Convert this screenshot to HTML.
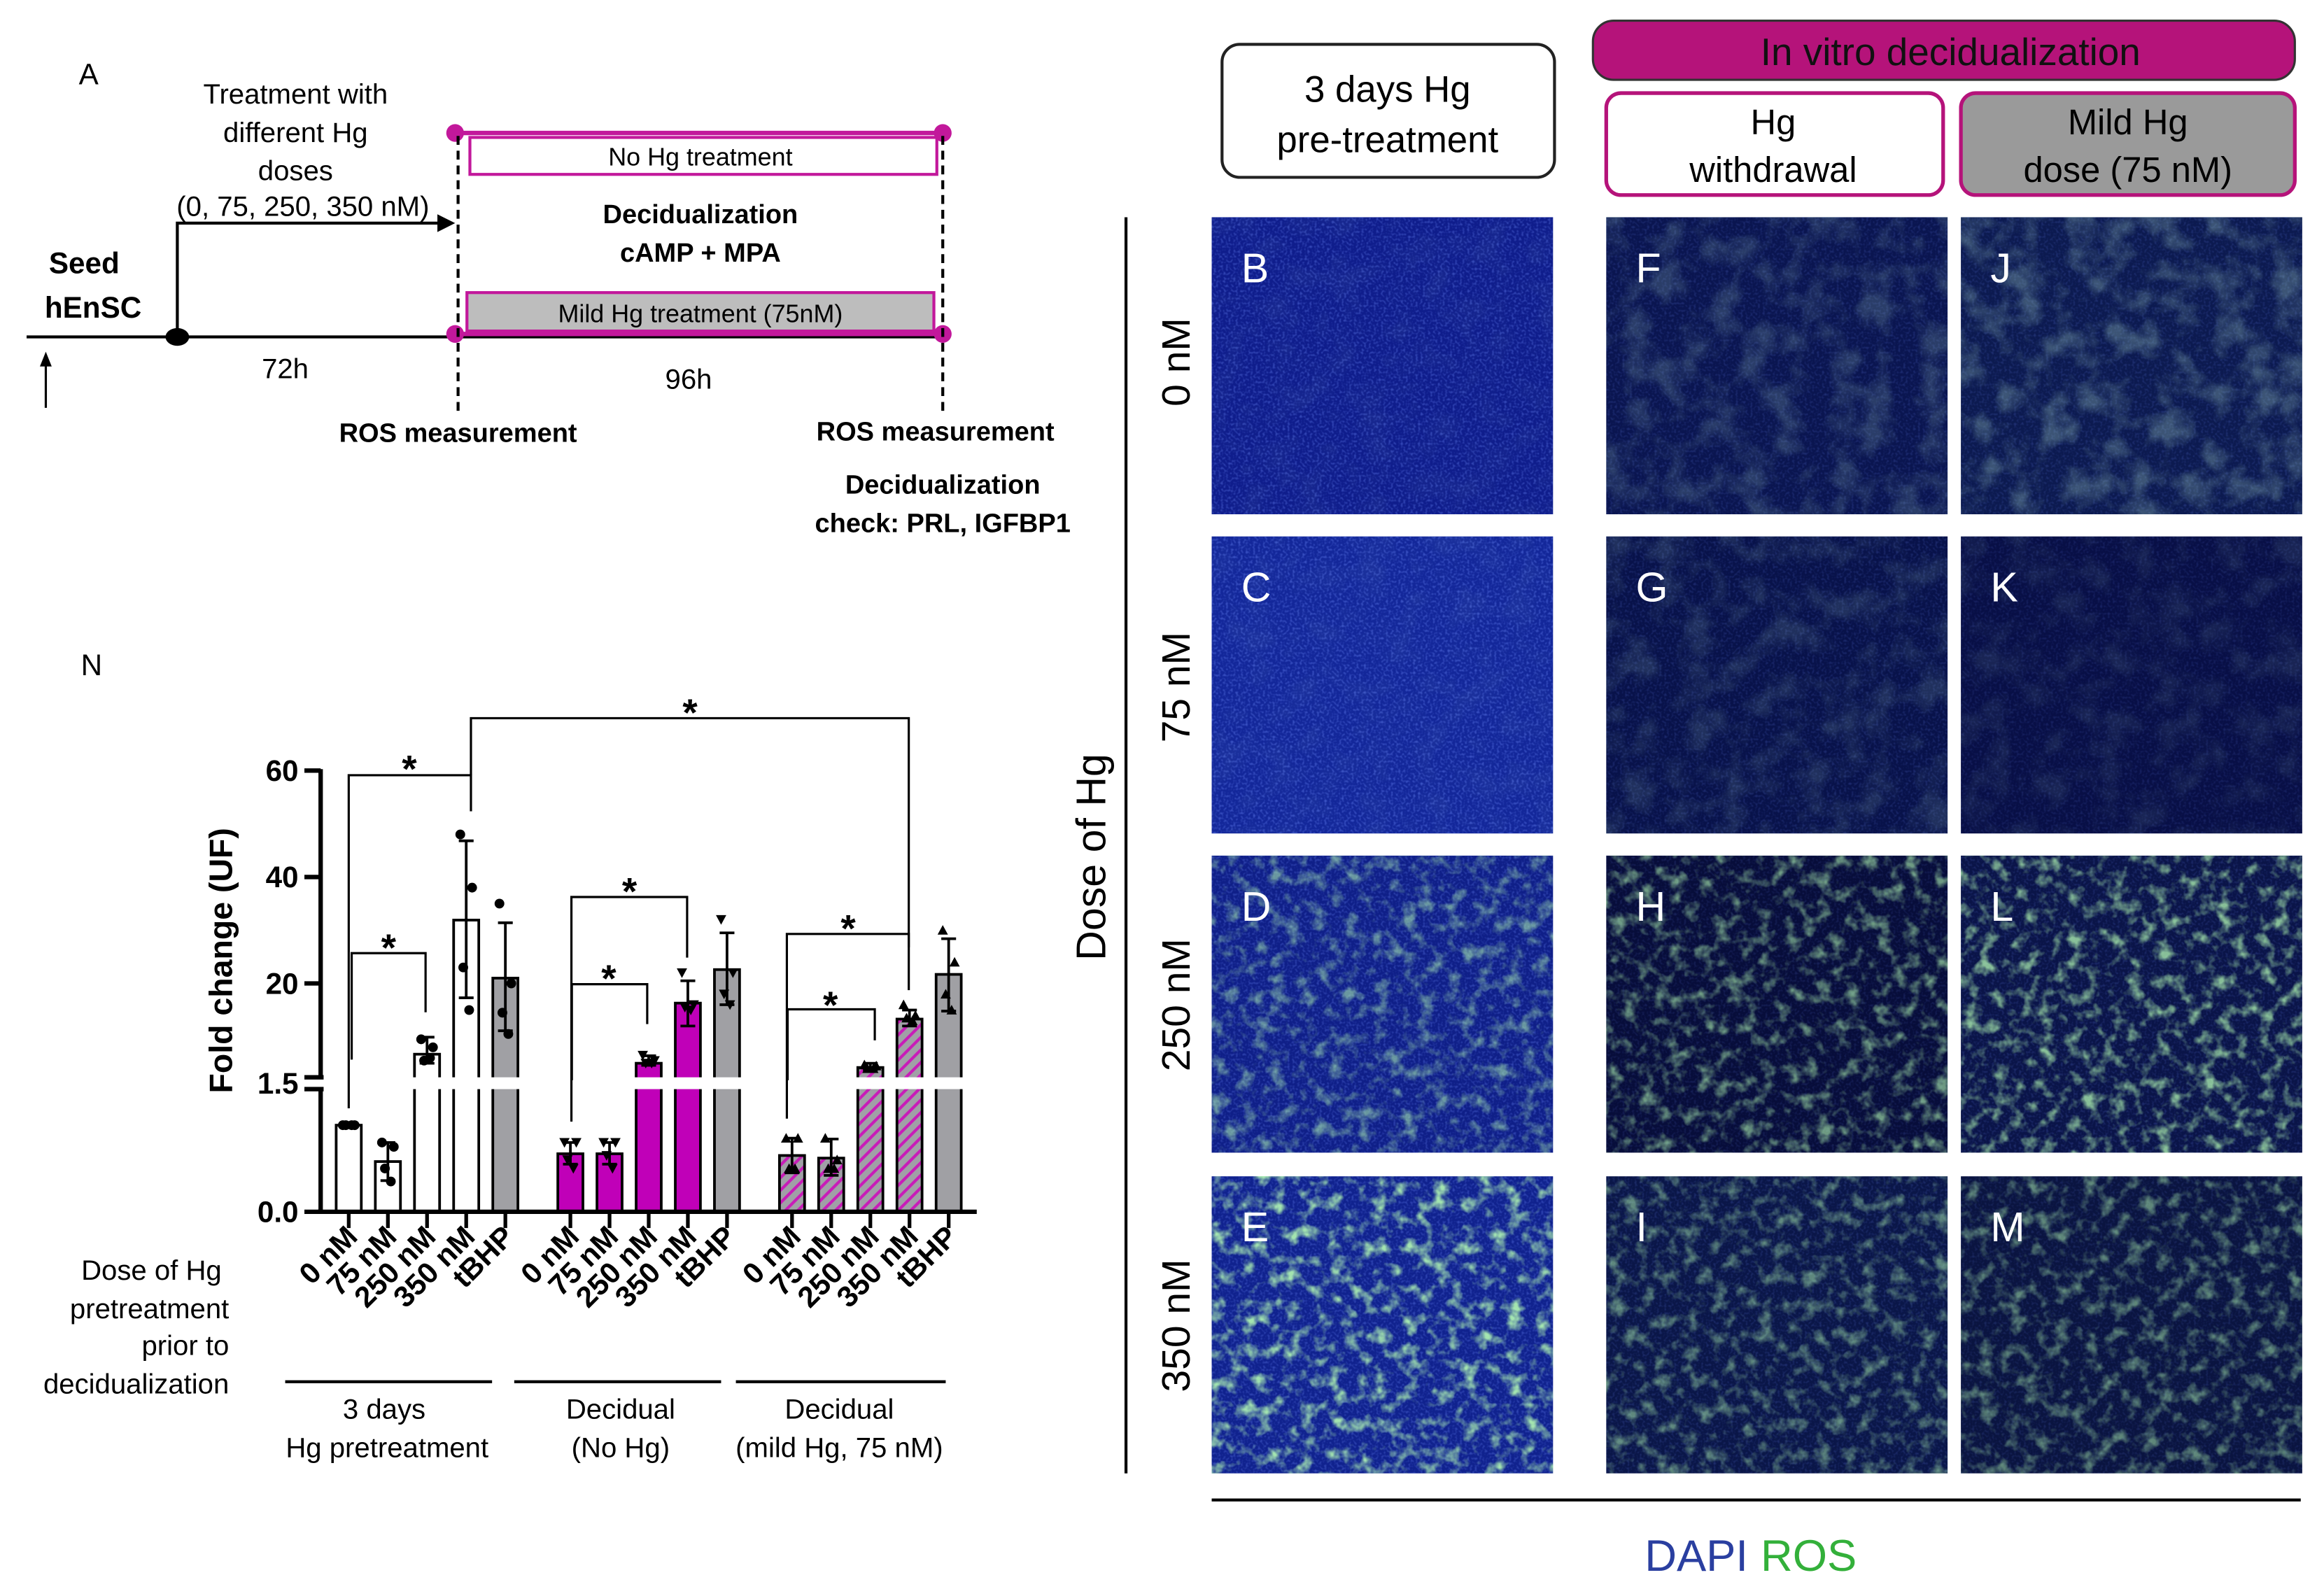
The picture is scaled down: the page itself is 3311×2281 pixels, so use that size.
<!DOCTYPE html>
<html><head><meta charset="utf-8">
<style>
html,body{margin:0;padding:0;background:#fff;}
svg{display:block;}
text{font-family:"Liberation Sans",sans-serif;}
</style></head>
<body>
<svg id="fig" xmlns="http://www.w3.org/2000/svg" width="3311" height="2281" viewBox="0 0 1568 1080" preserveAspectRatio="none">
<defs>
  <filter id="blueNoise" x="0" y="0" width="100%" height="100%">
    <feTurbulence type="fractalNoise" baseFrequency="0.6" numOctaves="1" seed="3"/>
    <feColorMatrix type="matrix" values="0 0 0 0 0.15  0 0 0 0 0.25  0 0 0 0 0.95  2.2 0 0 0 -1.0"/>
  </filter>
  <filter id="greenNoise" x="0" y="0" width="100%" height="100%">
    <feTurbulence type="fractalNoise" baseFrequency="0.1" numOctaves="3" seed="7"/>
    <feColorMatrix type="matrix" values="0 0 0 0 0.45  0 0 0 0 0.95  0 0 0 0 0.45  3.0 0 0 0 -1.45"/>
  </filter>
  <filter id="greenNoise2" x="0" y="0" width="100%" height="100%">
    <feTurbulence type="fractalNoise" baseFrequency="0.05" numOctaves="3" seed="11"/>
    <feColorMatrix type="matrix" values="0 0 0 0 0.4  0 0 0 0 0.7  0 0 0 0 0.6  3 0 0 0 -1.3"/>
  </filter>
  <pattern id="hatch" patternUnits="userSpaceOnUse" width="6" height="6" patternTransform="rotate(45)">
    <rect width="6" height="6" fill="#a0a0a6"/>
    <rect width="2" height="6" fill="#c81cb8"/>
  </pattern>
</defs>

<g>
  <text x="60" y="57" font-size="20" text-anchor="middle">A</text>
  <line x1="18" y1="228" x2="640" y2="228" stroke="#000" stroke-width="2"/>
  <ellipse cx="120" cy="228" rx="8" ry="6" fill="#000"/>
  <polyline points="120,228 120,151 300,151" fill="none" stroke="#000" stroke-width="2"/>
  <polygon points="308,151 296,145 296,157" fill="#000"/>
  <g font-size="19" text-anchor="middle">
    <text x="200" y="70">Treatment with</text>
    <text x="200" y="96">different Hg</text>
    <text x="200" y="122">doses</text>
    <text x="205" y="146">(0, 75, 250, 350 nM)</text>
  </g>
  <text x="57" y="185" font-size="20" font-weight="bold" text-anchor="middle">Seed</text>
  <text x="63" y="215" font-size="20" font-weight="bold" text-anchor="middle">hEnSC</text>
  <line x1="31" y1="276" x2="31" y2="245" stroke="#000" stroke-width="1.5"/>
  <polygon points="31,238 27,248 35,248" fill="#000"/>
  <text x="193" y="256" font-size="19" text-anchor="middle">72h</text>
  <line x1="308" y1="90" x2="638" y2="90" stroke="#c2189b" stroke-width="3"/>
  <line x1="308" y1="226" x2="638" y2="226" stroke="#c2189b" stroke-width="3"/>
  <circle cx="308" cy="90" r="6" fill="#c2189b"/><circle cx="638" cy="90" r="6" fill="#c2189b"/>
  <circle cx="308" cy="226" r="6" fill="#c2189b"/><circle cx="638" cy="226" r="6" fill="#c2189b"/>
  <line x1="310" y1="92" x2="310" y2="280" stroke="#000" stroke-width="2" stroke-dasharray="6,4"/>
  <line x1="638" y1="92" x2="638" y2="280" stroke="#000" stroke-width="2" stroke-dasharray="6,4"/>
  <rect x="318" y="93" width="316" height="25" fill="#fff" stroke="#c2189b" stroke-width="2"/>
  <text x="474" y="112" font-size="17" text-anchor="middle">No Hg treatment</text>
  <text x="474" y="151" font-size="18" font-weight="bold" text-anchor="middle">Decidualization</text>
  <text x="474" y="177" font-size="18" font-weight="bold" text-anchor="middle">cAMP + MPA</text>
  <rect x="316" y="198" width="316" height="26" fill="#bdbdbd" stroke="#c2189b" stroke-width="2"/>
  <text x="474" y="218" font-size="17" text-anchor="middle">Mild Hg treatment (75nM)</text>
  <text x="466" y="263" font-size="19" text-anchor="middle">96h</text>
  <text x="310" y="299" font-size="18" font-weight="bold" text-anchor="middle">ROS measurement</text>
  <text x="633" y="298" font-size="18" font-weight="bold" text-anchor="middle">ROS measurement</text>
  <text x="638" y="334" font-size="18" font-weight="bold" text-anchor="middle">Decidualization</text>
  <text x="638" y="360" font-size="18" font-weight="bold" text-anchor="middle">check: PRL, IGFBP1</text>
</g>

<text x="62" y="457" font-size="20" text-anchor="middle">N</text>
<text transform="translate(157,650) rotate(-90)" font-size="22" font-weight="bold" text-anchor="middle">Fold change (UF)</text>
<g id="chart"></g>
<g font-size="19" text-anchor="end">
  <text x="150" y="866">Dose of Hg</text>
  <text x="155" y="892">pretreatment</text>
  <text x="155" y="917">prior to</text>
  <text x="155" y="943">decidualization</text>
</g>
<g font-size="19" text-anchor="middle">
  <line x1="193" y1="935" x2="333" y2="935" stroke="#000" stroke-width="2"/>
  <line x1="348" y1="935" x2="488" y2="935" stroke="#000" stroke-width="2"/>
  <line x1="498" y1="935" x2="640" y2="935" stroke="#000" stroke-width="2"/>
  <text x="260" y="960">3 days</text><text x="262" y="986">Hg pretreatment</text>
  <text x="420" y="960">Decidual</text><text x="420" y="986">(No Hg)</text>
  <text x="568" y="960">Decidual</text><text x="568" y="986">(mild Hg, 75 nM)</text>
</g>

<g>
  <rect x="827" y="30" width="225" height="90" rx="12" fill="#fff" stroke="#222" stroke-width="2"/>
  <text x="939" y="69" font-size="25" text-anchor="middle">3 days Hg</text>
  <text x="939" y="103" font-size="25" text-anchor="middle">pre-treatment</text>
  <rect x="1078" y="14" width="475" height="40" rx="14" fill="#b5137a" stroke="#333" stroke-width="1.5"/>
  <text x="1320" y="44" font-size="26" text-anchor="middle" fill="#111">In vitro decidualization</text>
  <rect x="1087" y="63" width="228" height="69" rx="10" fill="#fff" stroke="#b5137a" stroke-width="2.5"/>
  <text x="1200" y="91" font-size="24" text-anchor="middle">Hg</text>
  <text x="1200" y="123" font-size="24" text-anchor="middle">withdrawal</text>
  <rect x="1327" y="63" width="226" height="69" rx="10" fill="#9a9a9a" stroke="#b5137a" stroke-width="2.5"/>
  <text x="1440" y="91" font-size="24" text-anchor="middle">Mild Hg</text>
  <text x="1440" y="123" font-size="24" text-anchor="middle">dose (75 nM)</text>
</g>
<line x1="762" y1="147" x2="762" y2="997" stroke="#000" stroke-width="2"/>
<text transform="translate(748,580) rotate(-90)" font-size="28" text-anchor="middle">Dose of Hg</text>
<g font-size="27" text-anchor="middle">
  <text transform="translate(805,245) rotate(-90)">0 nM</text>
  <text transform="translate(805,465) rotate(-90)">75 nM</text>
  <text transform="translate(805,680) rotate(-90)">250 nM</text>
  <text transform="translate(805,897) rotate(-90)">350 nM</text>
</g>
<g id="micro"></g>
<line x1="820" y1="1015" x2="1557" y2="1015" stroke="#000" stroke-width="2"/>
<text x="1148" y="1063" font-size="30" text-anchor="middle" fill="#2a3fa0">DAPI</text>
<text x="1224" y="1063" font-size="30" text-anchor="middle" fill="#33b03a">ROS</text>
</svg>

<script>
const NS = "http://www.w3.org/2000/svg";
const groups = ["3 days Hg pretreatment", "Decidual (No Hg)", "Decidual (mild Hg, 75 nM)"];
const doses = ["0 nM", "75 nM", "250 nM", "350 nM", "tBHP"];
const means = [
  [1.0, 0.58, 6.7, 31.9, 21.0],
  [0.67, 0.67, 5.0, 16.3, 22.6],
  [0.65, 0.62, 4.2, 13.3, 21.7]
];
const errHigh = [
  [1.0, 0.8, 9.9, 46.8, 31.4],
  [0.8, 0.8, 6.4, 20.5, 29.5],
  [0.85, 0.84, 5.0, 15.0, 28.4]
];
const errLow = [
  [1.0, 0.36, 5.0, 17.3, 11.1],
  [0.55, 0.55, 4.6, 12.0, 16.0],
  [0.45, 0.42, 3.8, 12.0, 14.8]
];
const points = [
  [[1,1,1,1],[0.8,0.75,0.5,0.35],[9.5,8,5.5,6],[48,38,23,15],[35,20,14.5,10.5]],
  [[0.8,0.8,0.6,0.5],[0.8,0.8,0.65,0.5],[6.5,5.5,5,5],[22,16,15.5,15],[32,22,18,16]],
  [[0.85,0.85,0.5,0.5],[0.85,0.6,0.5,0.5],[4.7,4.5,4,4],[16,14,13.5,13],[30,24,18,15]]
];
const upperTicks = [20, 40, 60];
const upperTickLabels = ["20", "40", "60"];
const lowerTicks = [0, 1.5];
const lowerTickLabels = ["0.0", "1.5"];

function yv(v){ return v <= 1.5 ? 820 - v*58.6 : 737.5 - v*3.601; }
function xc(g,k){ return 236 + g*150 + k*26.5; }

const chart = document.getElementById('chart');
function mk(tag, attrs, parent){
  const e = document.createElementNS(NS, tag);
  for (const k in attrs) e.setAttribute(k, attrs[k]);
  (parent||chart).appendChild(e);
  return e;
}
const fills = ["#ffffff", "#c000b8", "url(#hatch)"];
const barW = 17;
for (let g=0; g<3; g++){
  for (let k=0; k<5; k++){
    const x = xc(g,k), v = means[g][k], y = yv(v);
    const fill = k===4 ? "#a0a0a4" : fills[g];
    const bar = mk('rect', {x: x-barW/2, y: y, width: barW, height: 820-y, fill: fill, stroke:'#000', 'stroke-width':1.8});
    
    
    const yh = yv(errHigh[g][k]), yl = yv(errLow[g][k]);
    const eb = mk('g', {stroke:'#000','stroke-width':1.8});
    
    
    mk('line',{x1:x,y1:yh,x2:x,y2:yl},eb);
    mk('line',{x1:x-5,y1:yh,x2:x+5,y2:yh},eb);
    mk('line',{x1:x-5,y1:yl,x2:x+5,y2:yl},eb);
    points[g][k].forEach((pv,i)=>{
      const px = x + [-4,4,-2,2][i], py = yv(pv);
      let p;
      if (g===0) p = mk('circle',{cx:px,cy:py,r:3.3,fill:'#000'});
      else if (g===1) p = mk('polygon',{points:`${px-3.5},${py-3} ${px+3.5},${py-3} ${px},${py+3.5}`,fill:'#000'});
      else p = mk('polygon',{points:`${px-3.5},${py+3} ${px+3.5},${py+3} ${px},${py-3.5}`,fill:'#000'});
      
      
    });
    mk('line',{x1:x,y1:820,x2:x,y2:831,stroke:'#000','stroke-width':2.5});
    const t = mk('text',{x:x+7,y:838,'font-size':20,'font-weight':'bold','text-anchor':'end',transform:`rotate(-45 ${x+7} 838)`});
    t.textContent = doses[k];
    
    
  }
}
mk('rect',{x:220,y:729,width:445,height:8,fill:'#fff'});
const ax = mk('g',{stroke:'#000','stroke-width':3});


mk('line',{x1:217,y1:yv(60)-1,x2:217,y2:729},ax);
mk('line',{x1:217,y1:737,x2:217,y2:821},ax);
mk('line',{x1:206,y1:729,x2:219,y2:729},ax);
mk('line',{x1:206,y1:737,x2:219,y2:737},ax);
const xa = mk('line',{x1:215,y1:820,x2:661,y2:820,stroke:'#000','stroke-width':3});


upperTicks.forEach((v,i)=>{
  mk('line',{x1:206,y1:yv(v),x2:217,y2:yv(v),stroke:'#000','stroke-width':3});
  const t = mk('text',{x:202,y:yv(v)+7,'font-size':20,'font-weight':'bold','text-anchor':'end'});
  t.textContent = upperTickLabels[i];
  
  
});
lowerTicks.forEach((v,i)=>{
  if (v===0) mk('line',{x1:206,y1:820,x2:217,y2:820,stroke:'#000','stroke-width':3});
  const t = mk('text',{x:202,y:(v===0?820:733)+7,'font-size':20,'font-weight':'bold','text-anchor':'end'});
  t.textContent = lowerTickLabels[i];
  
  
});
const brackets = [
  [236,750,524.6,318.7,549,277,515],
  [238,717,645,288,685,263,636],
  [318.7,524.6,486,615,670,467,477],
  [386.7,759,607,465,648,426,598],
  [387,731,666,438,693,412,657],
  [532.5,757,632,615,641,574,623],
  [533,731,683,592,704,562,675]
];
brackets.forEach(b=>{
  const g = mk('g',{});
  
  
  mk('polyline',{points:`${b[0]},${b[1]} ${b[0]},${b[2]} ${b[3]},${b[2]} ${b[3]},${b[4]}`,fill:'none',stroke:'#000','stroke-width':1.5},g);
  const s = mk('text',{x:b[5],y:b[6]+14,'font-size':26,'font-weight':'bold','text-anchor':'middle'},g);
  s.textContent = '*';
});

const micro = document.getElementById('micro');
const colX = [820, 1087, 1327];
const rowY = [147, 363, 579, 796];
const letters = [["B","F","J"],["C","G","K"],["D","H","L"],["E","I","M"]];
const baseCol = [["#0f1d8c","#0a1550","#0c1a50"],["#13279a","#08124a","#080f46"],["#0f1f88","#070d3a","#0a1448"],["#10228e","#0a1648","#0a1440"]];
const blueOp = [[0.5,0.25,0.25],[0.55,0.25,0.2],[0.45,0.2,0.25],[0.45,0.25,0.2]];
const greenOp = [[0.05,0.2,0.3],[0.05,0.15,0.1],[0.55,0.6,0.75],[0.9,0.5,0.5]];
for (let r=0;r<4;r++) for (let c=0;c<3;c++){
  const g = document.createElementNS(NS,'g');
  
  
  micro.appendChild(g);
  const x = colX[c], y = rowY[r], w = 231, h = 201;
  mk('rect',{x:x,y:y,width:w,height:h,fill:baseCol[r][c]},g);
  mk('rect',{x:x,y:y,width:w,height:h,filter:'url(#blueNoise)',opacity: blueOp[r][c]},g);
  mk('rect',{x:x,y:y,width:w,height:h,filter: r>=2?'url(#greenNoise)':'url(#greenNoise2)',opacity:greenOp[r][c]},g);
  const t = mk('text',{x:x+20,y:y+44,'font-size':28,fill:'#fff'},g);
  t.textContent = letters[r][c];
}
</script>
</body></html>
